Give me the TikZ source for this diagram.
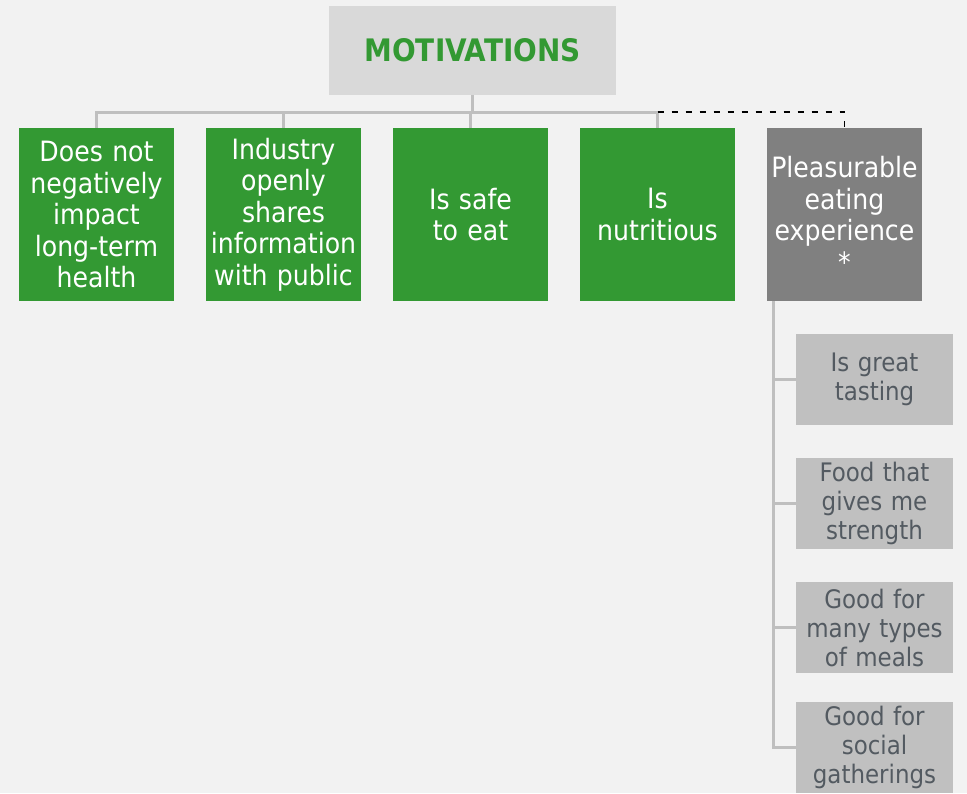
\documentclass[tikz,border=0pt]{standalone}
\usepackage{fontspec}
\setmainfont{DejaVu Sans Condensed}
\definecolor{bg}{HTML}{F2F2F2}
\definecolor{titlefill}{HTML}{D9D9D9}
\definecolor{mygreen}{HTML}{339933}
\definecolor{darkbox}{HTML}{808080}
\definecolor{subfill}{HTML}{C0C0C0}
\definecolor{subtext}{HTML}{535A61}
\definecolor{connc}{HTML}{BFBFBF}
\begin{document}
\begin{tikzpicture}[x=1pt,y=-1pt,
  titlebox/.style={rectangle, fill=titlefill, text=mygreen, minimum width=287pt, minimum height=89pt, inner sep=0pt, font=\fontsize{31}{36}\selectfont\bfseries},
  greenbox/.style={rectangle, fill=mygreen, text=white, minimum width=155pt, minimum height=173pt, inner sep=0pt, text width=155pt, align=center, font=\fontsize{28}{31.5}\selectfont},
  graybox/.style={greenbox, fill=darkbox},
  subbox/.style={rectangle, fill=subfill, text=subtext, minimum width=157pt, minimum height=91pt, inner sep=0pt, text width=157pt, align=center, font=\fontsize{25.5}{29}\selectfont},
  conn/.style={draw=connc, line width=3pt},
  dashconn/.style={draw=black, line width=1.6pt, dash pattern=on 6pt off 8pt}]
\fill[bg] (0,0) rectangle (967,793);
\useasboundingbox (0,0) rectangle (967,793);

\node[titlebox] (title) at (472.5,50.5) {MOTIVATIONS};

\node[greenbox] (b1) at (96.5,214.5) {Does not\\negatively\\impact\\long-term\\health};
\node[greenbox] (b2) at (283.5,214.5) {Industry\\openly\\shares\\information\\with public};
\node[greenbox] (b3) at (470.5,214.5) {Is safe\\to eat};
\node[greenbox] (b4) at (657.5,214.5) {Is\\nutritious};
\node[graybox] (b5) at (844.5,214.5) {Pleasurable\\eating\\experience\\{*}};

\begin{scope}
\clip (0,0) rectangle (967,793);
\node[subbox] (s1) at (874.5,379.5) {Is great\\tasting};
\node[subbox] (s2) at (874.5,503.5) {Food that\\gives me\\strength};
\node[subbox] (s3) at (874.5,627.5) {Good for\\many types\\of meals};
\node[subbox] (s4) at (874.5,747.5) {Good for\\social\\gatherings};
\end{scope}

\coordinate (bus) at (472,112);
\coordinate (spine) at (773,0);

\draw[conn] (title.south) -- (title.south |- bus);
\draw[conn] (b1.north) -- (b1.north |- bus) -- (b4.north |- bus) -- (b4.north);
\draw[conn] (b2.north) -- (b2.north |- bus);
\draw[conn] (b3.north) -- (b3.north |- bus);
\draw[dashconn] (b4.north |- bus) -- (b5.north |- bus) -- (b5.north);

\draw[conn] (b5.south -| spine) -- (spine |- s4.west) -- (s4.west);
\draw[conn] (spine |- s1.west) -- (s1.west);
\draw[conn] (spine |- s2.west) -- (s2.west);
\draw[conn] (spine |- s3.west) -- (s3.west);
\end{tikzpicture}
\end{document}
